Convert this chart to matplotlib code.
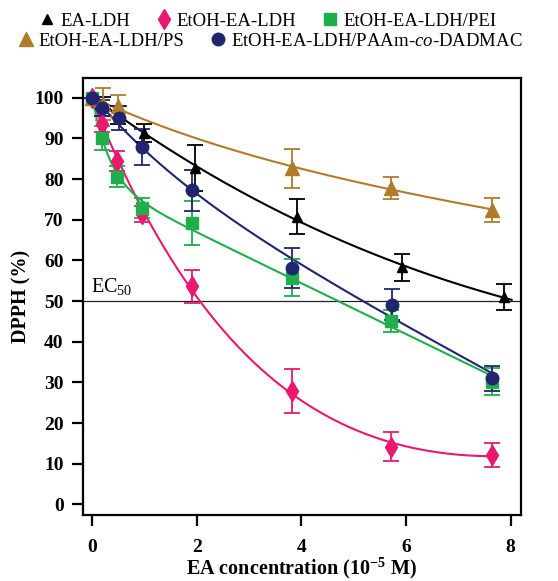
import numpy as np
import matplotlib
matplotlib.use('Agg')
import matplotlib.pyplot as plt

plt.rcParams['font.family'] = ['Liberation Serif', 'DejaVu Serif']
plt.rcParams['mathtext.fontset'] = 'custom'
plt.rcParams['mathtext.rm'] = 'Liberation Serif'
plt.rcParams['mathtext.it'] = 'Liberation Serif:italic'
plt.rcParams['mathtext.bf'] = 'Liberation Serif:bold'

# data (x in 1e-5 M, y in %)
x_ea = [0, 0.2, 0.49, 0.99, 1.96, 3.91, 5.92, 7.87]
y_ea = [100, 98.7, 95.8, 91.3, 82.7, 70.8, 58.3, 51.0]
e_ea = [0, 1.5, 2.2, 2.2, 5.6, 4.4, 3.3, 3.2]

x_et = [0, 0.19, 0.48, 0.95, 1.9, 3.81, 5.72, 7.64]
y_et = [100, 93.5, 84.5, 71.5, 53.6, 28.0, 14.2, 12.2]
e_et = [0, 2.0, 2.5, 2.0, 4.1, 5.4, 3.6, 3.0]

x_pei = [0, 0.19, 0.48, 0.95, 1.9, 3.81, 5.72, 7.64]
y_pei = [100, 90.1, 80.6, 72.9, 69.2, 55.8, 45.2, 30.2]
e_pei = [0, 3.0, 2.5, 2.5, 5.5, 4.6, 2.7, 3.3]

x_ps = [0, 0.2, 0.49, 3.81, 5.72, 7.64]
y_ps = [100, 98.5, 97.9, 82.7, 77.9, 72.4]
e_ps = [0, 4.0, 2.7, 4.8, 2.7, 3.0]

x_pa = [0, 0.19, 0.5, 0.94, 1.9, 3.81, 5.74, 7.64]
y_pa = [100, 97.5, 95.0, 87.9, 77.2, 58.1, 49.1, 31.0]
e_pa = [0, 2.0, 3.0, 4.5, 5.0, 5.0, 3.8, 3.0]

labels = ['EA-LDH', 'EtOH-EA-LDH', 'EtOH-EA-LDH/PEI', 'EtOH-EA-LDH/PS',
          'EtOH-EA-LDH/PAAm-$\\mathit{co}$-DADMAC']
colors = ['#000000', '#E8196E', '#1FAE4B', '#B07C2C', '#20256E']
markers = ['^', 'd', 's', '^', 'o']
msizes = [7, 10, 8, 10, 9]
fit_end = [8.02, 7.64, 7.64, 7.7, 7.64]


def fit_curve(x, y, xs):
    # y = A*exp(-k x) + c + m x, grid over k, least squares for the rest
    x = np.asarray(x, float)
    y = np.asarray(y, float)
    best = None
    for k in np.linspace(0.05, 3, 600):
        M = np.column_stack([np.exp(-k * x), np.ones_like(x), x])
        p, res, _, _ = np.linalg.lstsq(M, y, rcond=None)
        r = np.sum((M @ p - y) ** 2)
        if best is None or r < best[0]:
            best = (r, k, p)
    _, k, p = best
    return p[0] * np.exp(-k * xs) + p[1] + p[2] * xs


fig = plt.figure(figsize=(5.58, 5.81), dpi=100)
ax = fig.add_axes([0.1487, 0.1136, 0.7841, 0.7521])

series = [(x_ea, y_ea, e_ea), (x_et, y_et, e_et), (x_pei, y_pei, e_pei),
          (x_ps, y_ps, e_ps), (x_pa, y_pa, e_pa)]
handles = []
for i, (x, y, e) in enumerate(series):
    xs = np.linspace(0, fit_end[i], 200)
    ax.plot(xs, fit_curve(x, y, xs), color=colors[i], lw=1.5, zorder=2)
    ax.errorbar(x, y, yerr=e, fmt='none', ecolor=colors[i], elinewidth=1.3,
                capsize=5.5, capthick=1.3, zorder=3)
    h, = ax.plot(x, y, ls='none', marker=markers[i], ms=msizes[i],
                 color=colors[i], mec=colors[i], zorder=4)
    handles.append(h)

ax.axhline(50, color='#222222', lw=0.9, zorder=1)
ax.text(-0.03, 52.3, 'EC$_{50}$', fontsize=14.5)

ax.set_xlim(-0.18, 8.19)
ax.set_ylim(-2.6, 104.85)
ax.set_xticks([0, 2, 4, 6, 8])
ax.set_yticks(range(0, 101, 10))
ax.tick_params(direction='out', length=8, width=1.6, labelsize=14, pad=6)
ax.tick_params(axis='x', pad=9)
for t in ax.get_xticklabels() + ax.get_yticklabels():
    t.set_fontweight('bold')
for s in ax.spines.values():
    s.set_linewidth(1.6)

ax.set_xlabel('EA concentration (10$^{\\mathbf{-5}}$ M)', fontsize=14.5,
              fontweight='bold', labelpad=0)
ax.set_ylabel('DPPH (%)', fontsize=14.5, fontweight='bold', labelpad=2)

fig.legend(handles[:3], labels[:3], loc='center', ncol=3,
           bbox_to_anchor=(0.48, 1 - 21 / 581), frameon=False, fontsize=13.5,
           handlelength=0.8, handletextpad=0.3, columnspacing=1.4,
           borderpad=0, borderaxespad=0)
fig.legend(handles[3:], labels[3:], loc='center', ncol=2,
           bbox_to_anchor=(0.485, 1 - 41 / 581), frameon=False, fontsize=13.5,
           handlelength=0.8, handletextpad=0.3, columnspacing=1.4,
           borderpad=0, borderaxespad=0)

fig.savefig('out.png', dpi=100)
